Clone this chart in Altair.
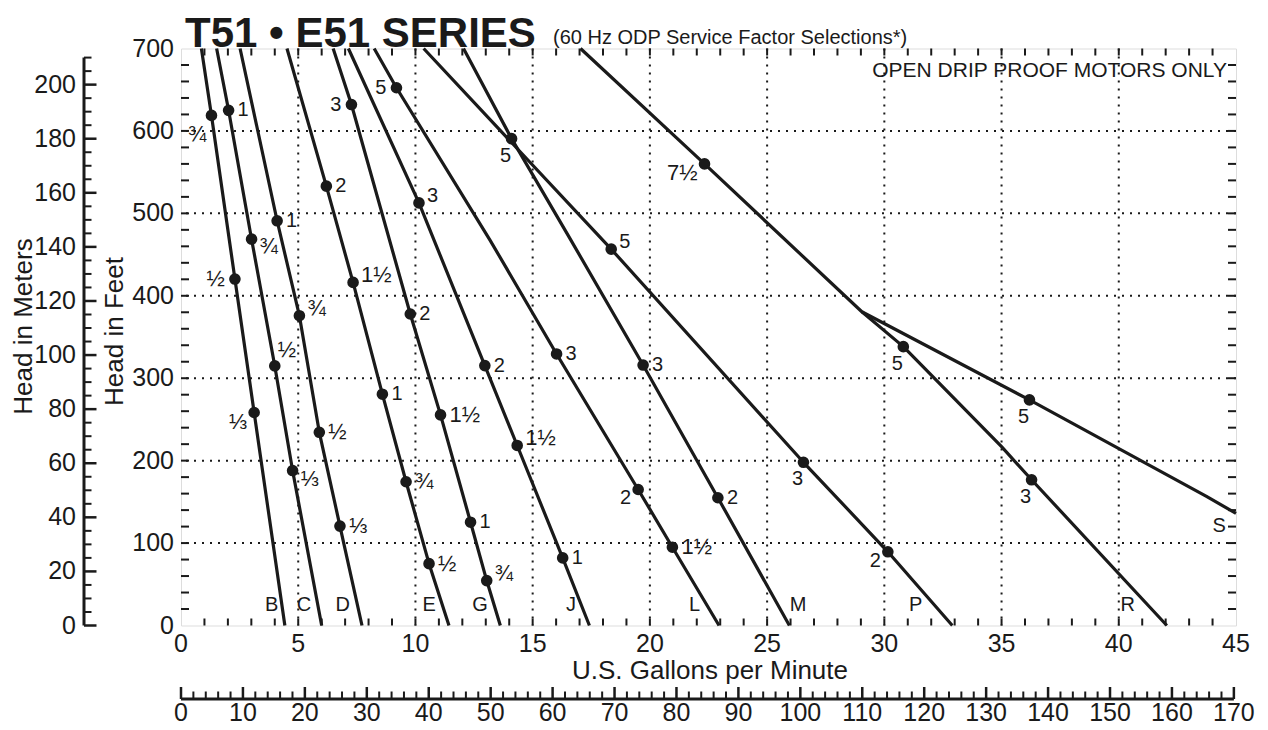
import altair as alt
import pandas as pd

FONT = "Liberation Sans"
W, H = 1055, 577

# ---------------- text ----------------
title_text = "T51 • E51 SERIES"
subtitle_text = "(60 Hz ODP Service Factor Selections*)"
note_text = "OPEN DRIP PROOF MOTORS ONLY"
x_title = "U.S. Gallons per Minute"
ft_title = "Head in Feet"
m_title = "Head in Meters"

# ---------------- axes values ----------------
gpm_labels = [0, 5, 10, 15, 20, 25, 30, 35, 40, 45]
ft_labels = [0, 100, 200, 300, 400, 500, 600, 700]
m_labels = [0, 20, 40, 60, 80, 100, 120, 140, 160, 180, 200]
lpm_labels = [0, 10, 20, 30, 40, 50, 60, 70, 80, 90, 100, 110, 120, 130, 140, 150, 160, 170]
gpm_grid = [5, 10, 15, 20, 25, 30, 35, 40]
ft_grid = [100, 200, 300, 400, 500, 600]
gpm_ticks = list(range(1, 45))
ft_ticks = list(range(20, 700, 20))
m_minor = [v for v in range(5, 211, 5) if v % 20]
m_axis_max = 210
lpm_minor = [v for v in range(2, 171, 2) if v % 10]
LPM_PER_GPM = 3.785411784
M_PER_FT = 0.3048

# ---------------- pump curves (GPM, feet) ----------------
curve_gpm = {
    "B": [0.87, 1.30, 2.30, 3.12, 4.43],
    "C": [1.52, 2.03, 3.01, 4.00, 4.76, 6.00],
    "D": [2.52, 4.10, 5.05, 5.90, 6.78, 7.72],
    "E": [4.52, 6.20, 7.34, 8.59, 9.60, 10.58, 11.43],
    "G": [6.49, 7.27, 9.78, 11.07, 12.35, 13.04, 13.62],
    "J": [7.14, 10.15, 12.96, 14.34, 16.28, 17.42],
    "L": [8.24, 9.19, 13.18, 16.02, 19.50, 20.96, 22.95],
    "M": [12.05, 14.10, 16.55, 19.71, 22.90, 25.95],
    "P": [10.35, 18.35, 26.55, 30.15, 32.90],
    "R": [17.04, 22.33, 29.04, 30.81, 35.00, 36.28, 42.05],
    "S": [29.04, 36.19, 43.74, 45.00],
}
curve_ft = {
    "B": [700, 618.8, 420.3, 258.4, 0],
    "C": [700, 625, 468.7, 314.9, 188, 0],
    "D": [700, 491, 375.8, 234.4, 120.6, 0],
    "E": [700, 533, 416.2, 280.6, 174.4, 75, 0],
    "G": [700, 632, 377.9, 255.5, 125.3, 54.5, 0],
    "J": [700, 512.7, 315.3, 218.4, 82, 0],
    "L": [700, 652.4, 467.6, 329.4, 165, 95, 0],
    "M": [700, 590.6, 471.5, 316, 155, 0],
    "P": [700, 456.6, 198, 89.4, 0],
    "R": [700, 560, 380.6, 338.3, 217, 176.8, 0],
    "S": [380.6, 273.7, 156.6, 136],
}

# ---------------- horsepower selection points ----------------
dot_curve = ["B", "B", "B", "C", "C", "C", "C", "D", "D", "D", "D",
             "E", "E", "E", "E", "E", "G", "G", "G", "G", "G",
             "J", "J", "J", "J", "L", "L", "L", "L", "M", "M", "M",
             "P", "P", "P", "R", "R", "R", "S"]
dot_gpm = [1.30, 2.30, 3.12, 2.03, 3.01, 4.00, 4.76, 4.10, 5.05, 5.90, 6.78,
           6.20, 7.34, 8.59, 9.60, 10.58, 7.27, 9.78, 11.07, 12.35, 13.04,
           10.15, 12.96, 14.34, 16.28, 9.19, 16.02, 19.50, 20.96, 14.10, 19.71, 22.90,
           18.35, 26.55, 30.15, 22.33, 30.81, 36.28, 36.19]
dot_ft = [618.8, 420.3, 258.4, 625, 468.7, 314.9, 188, 491, 375.8, 234.4, 120.6,
          533, 416.2, 280.6, 174.4, 75, 632, 377.9, 255.5, 125.3, 54.5,
          512.7, 315.3, 218.4, 82, 652.4, 329.4, 165, 95, 590.6, 316, 155,
          456.6, 198, 89.4, 560, 338.3, 176.8, 273.7]
dot_hp = ["¾", "½", "⅓", "1", "¾", "½", "⅓", "1", "¾", "½", "⅓",
          "2", "1½", "1", "¾", "½", "3", "2", "1½", "1", "¾",
          "3", "2", "1½", "1", "5", "3", "2", "1½", "5", "3", "2",
          "5", "3", "2", "7½", "5", "3", "5"]
dot_side = ["bl2", "l", "bl", "r", "br", "u", "br", "r", "ur", "r", "r",
            "r", "ur", "r", "r", "r", "l", "r", "r", "r", "ur",
            "ur", "r", "ur", "r", "l", "r", "bl", "r", "b", "r", "r",
            "ur", "b", "bl", "bl", "b", "b", "b"]

# ---------------- curve letters ----------------
letter_names = ["B", "C", "D", "E", "G", "J", "L", "M", "P", "R", "S"]
letter_gpm = [3.87, 5.25, 6.90, 10.59, 12.76, 16.63, 21.91, 26.32, 31.34, 40.38, 44.28]
letter_ft = [24.6, 24.6, 24.6, 24.6, 24.6, 24.6, 24.6, 24.6, 24.6, 24.6, 120.5]

# ---------------- build tables ----------------
rows = []
for name in curve_gpm:
    for i, (g, f) in enumerate(zip(curve_gpm[name], curve_ft[name])):
        rows.append({"curve": name, "i": i, "gpm": g, "ft": f})
curves_df = pd.DataFrame(rows)
dots_df = pd.DataFrame({"curve": dot_curve, "gpm": dot_gpm, "ft": dot_ft,
                        "hp": dot_hp, "side": dot_side})
letters_df = pd.DataFrame({"name": letter_names, "gpm": letter_gpm, "ft": letter_ft})

xs = alt.Scale(domain=[0, 45], nice=False, zero=False)
ys = alt.Scale(domain=[0, 700], nice=False, zero=False)


def X(f):
    return alt.X(f, scale=xs, axis=None)


def Y(f):
    return alt.Y(f, scale=ys, axis=None)


BLACK = "#1a1a1a"
layers = []

# dotted grid
layers.append(alt.Chart(pd.DataFrame({"gpm": gpm_grid})).mark_rule(
    color=BLACK, strokeWidth=2, strokeDash=[2, 6]).encode(x=X("gpm:Q")))
layers.append(alt.Chart(pd.DataFrame({"ft": ft_grid})).mark_rule(
    color=BLACK, strokeWidth=2, strokeDash=[2, 6]).encode(y=Y("ft:Q")))

# inner ticks on the frame
ftt = pd.DataFrame({"ft": ft_ticks})
gpt = pd.DataFrame({"gpm": gpm_ticks})
layers.append(alt.Chart(ftt).mark_rule(color=BLACK, strokeWidth=2).encode(
    x=alt.value(0), x2=alt.value(8), y=Y("ft:Q")))
layers.append(alt.Chart(ftt).mark_rule(color=BLACK, strokeWidth=2).encode(
    x=alt.value(W), x2=alt.value(W - 8), y=Y("ft:Q")))
layers.append(alt.Chart(gpt).mark_rule(color=BLACK, strokeWidth=2).encode(
    x=X("gpm:Q"), y=alt.value(H), y2=alt.value(H - 7)))
layers.append(alt.Chart(gpt).mark_rule(color=BLACK, strokeWidth=2).encode(
    x=X("gpm:Q"), y=alt.value(0), y2=alt.value(7)))

# feet and gpm labels
layers.append(alt.Chart(pd.DataFrame({"ft": ft_labels})).mark_text(
    font=FONT, fontSize=25, align="right", baseline="middle", color=BLACK).encode(
    x=alt.value(-7), y=Y("ft:Q"), text="ft:Q"))
layers.append(alt.Chart(pd.DataFrame({"gpm": gpm_labels})).mark_text(
    font=FONT, fontSize=25, align="center", baseline="top", color=BLACK).encode(
    x=X("gpm:Q"), y=alt.value(H + 6.5), text="gpm:Q"))

# meters axis (left, outside)
MX = -97
layers.append(alt.Chart(pd.DataFrame({"m0": [0], "m1": [m_axis_max]})).transform_calculate(
    ft0=f"datum.m0 / {M_PER_FT}", ft1=f"datum.m1 / {M_PER_FT}").mark_rule(
    color=BLACK, strokeWidth=3).encode(
    x=alt.value(MX), y=Y("ft0:Q"), y2="ft1:Q"))
layers.append(alt.Chart(pd.DataFrame({"m": m_labels})).transform_calculate(
    ft=f"datum.m / {M_PER_FT}").mark_rule(color=BLACK, strokeWidth=2.5).encode(
    x=alt.value(MX), x2=alt.value(MX + 12.5), y=Y("ft:Q")))
layers.append(alt.Chart(pd.DataFrame({"m": m_minor})).transform_calculate(
    ft=f"datum.m / {M_PER_FT}").mark_rule(color=BLACK, strokeWidth=2).encode(
    x=alt.value(MX), x2=alt.value(MX + 7.5), y=Y("ft:Q")))
layers.append(alt.Chart(pd.DataFrame({"m": m_labels})).transform_calculate(
    ft=f"datum.m / {M_PER_FT}").mark_text(
    font=FONT, fontSize=25, align="right", baseline="middle", color=BLACK).encode(
    x=alt.value(MX - 8), y=Y("ft:Q"), text="m:Q"))

# liters per minute axis (bottom, outside)
LY = 650.5
layers.append(alt.Chart(pd.DataFrame({"l0": [0], "l1": [lpm_labels[-1]]})).transform_calculate(
    g0=f"datum.l0 / {LPM_PER_GPM}", g1=f"datum.l1 / {LPM_PER_GPM}").mark_rule(
    color=BLACK, strokeWidth=3).encode(
    y=alt.value(LY), x=X("g0:Q"), x2="g1:Q"))
layers.append(alt.Chart(pd.DataFrame({"lpm": lpm_labels})).transform_calculate(
    gpm=f"datum.lpm / {LPM_PER_GPM}").mark_rule(color=BLACK, strokeWidth=2.5).encode(
    x=X("gpm:Q"), y=alt.value(LY), y2=alt.value(LY - 12)))
layers.append(alt.Chart(pd.DataFrame({"lpm": lpm_minor})).transform_calculate(
    gpm=f"datum.lpm / {LPM_PER_GPM}").mark_rule(color=BLACK, strokeWidth=2).encode(
    x=X("gpm:Q"), y=alt.value(LY), y2=alt.value(LY - 7.5)))
layers.append(alt.Chart(pd.DataFrame({"lpm": lpm_labels})).transform_calculate(
    gpm=f"datum.lpm / {LPM_PER_GPM}").mark_text(
    font=FONT, fontSize=25, align="center", baseline="alphabetic", color=BLACK).encode(
    x=X("gpm:Q"), y=alt.value(672.5), text="lpm:Q"))

# pump curves
layers.append(alt.Chart(curves_df).mark_line(
    color=BLACK, strokeWidth=3.2, strokeJoin="round").encode(
    x=X("gpm:Q"), y=Y("ft:Q"), detail="curve:N", order="i:Q"))

# selection dots
layers.append(alt.Chart(dots_df).mark_circle(size=135, color=BLACK, opacity=1).encode(
    x=X("gpm:Q"), y=Y("ft:Q")))

side_styles = {
    "r": ("left", 9, 0), "l": ("right", -10, 0), "ur": ("left", 8, -7),
    "u": ("left", 3, -16), "br": ("left", 8, 8), "bl": ("right", -7, 9),
    "bl2": ("right", -5, 20), "b": ("center", -6, 17),
}
for side, (al, dx, dy) in side_styles.items():
    for is_frac, fs in ((False, 20), (True, 22)):
        sub = dots_df[(dots_df.side == side) &
                      (dots_df.hp.str.contains("[½¾⅓]") == is_frac)]
        if len(sub) == 0:
            continue
        layers.append(alt.Chart(sub).mark_text(
            font=FONT, fontSize=fs, align=al, baseline="middle", dx=dx, dy=dy,
            color=BLACK).encode(x=X("gpm:Q"), y=Y("ft:Q"), text="hp:N"))

# curve letters
layers.append(alt.Chart(letters_df).mark_text(
    font=FONT, fontSize=20, align="center", baseline="middle", color=BLACK).encode(
    x=X("gpm:Q"), y=Y("ft:Q"), text="name:N"))


# titles and notes
def label(txt, x, y, **kw):
    return alt.Chart(pd.DataFrame({"t": [txt]})).mark_text(
        font=FONT, color=BLACK, **kw).encode(x=alt.value(x), y=alt.value(y), text="t:N")


layers.append(label(title_text, 4, -2, fontSize=42, fontWeight="bold",
                    align="left", baseline="alphabetic"))
layers.append(label(subtitle_text, 372, -5, fontSize=20, align="left", baseline="alphabetic"))
layers.append(label(note_text, 1046, 28.5, fontSize=21, align="right", baseline="alphabetic"))
layers.append(label(x_title, 529, 630, fontSize=26, align="center", baseline="alphabetic"))
layers.append(label(ft_title, -66, 283, fontSize=26, angle=270, align="center", baseline="middle"))
layers.append(label(m_title, -157, 278, fontSize=26, angle=270, align="center", baseline="middle"))

chart = alt.layer(*layers).properties(
    width=W, height=H,
    autosize=alt.AutoSizeParams(type="none"),
    padding={"left": 173, "top": 40.5, "right": 20, "bottom": 103},
).configure_view(stroke=BLACK, strokeWidth=4).configure(font=FONT, background="white")

chart.save("out.html", embed_options={"renderer": "svg", "actions": False})
